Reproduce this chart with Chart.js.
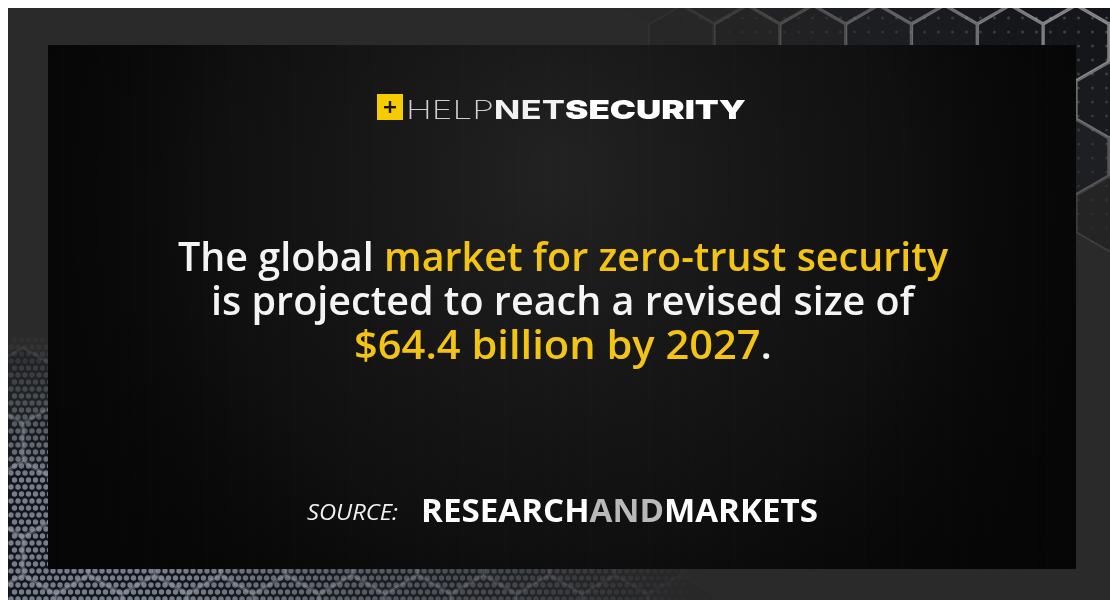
<!DOCTYPE html>
<html><head><meta charset="utf-8">
<script src="https://cdn.jsdelivr.net/npm/chart.js@4.4.0/dist/chart.umd.min.js"></script>
<style>html,body{margin:0;padding:0;background:#fff;overflow:hidden}#wrap{width:1110px;height:600px;position:relative}canvas{display:block}</style>
</head><body><div id="wrap"><canvas id="c" width="1110" height="600"></canvas></div>
<script>
// ---- data ----
const brandParts = ["HELP", "NET", "SECURITY"];
const marketLabels = ["zero-trust security"];
const marketSizeBillionUSD = [64.4];
const targetYears = ["2027"];
const sourceLabel = "SOURCE:";
const sourceParts = ["RESEARCH", "AND", "MARKETS"];

const WHITE = "#f4f4f4", YELLOW = "#f4c414", GREY = "#b9b9b9";
const IMG = {x: 8, y: 8, w: 1102, h: 592};
const PANEL = {x: 48, y: 45, w: 1028, h: 524};

function clamp(v, a, b) { return Math.max(a, Math.min(b, v)); }

function fitLine(ctx, parts, x0, x1, baseline) {
  let total = 0;
  parts.forEach(p => { ctx.font = p.f; p.w = ctx.measureText(p.t).width; total += p.w; });
  const s = (x1 - x0) / total;
  ctx.save();
  ctx.translate(x0, baseline);
  ctx.scale(s, 1);
  ctx.textBaseline = "alphabetic";
  ctx.textAlign = "left";
  let x = 0;
  parts.forEach(p => { ctx.font = p.f; ctx.fillStyle = p.c; ctx.fillText(p.t, x, 0); x += p.w; });
  ctx.restore();
}

function hexPath(ctx, cx, cy, r) {
  ctx.beginPath();
  for (let k = 0; k < 6; k++) {
    const a = (Math.PI / 180) * (60 * k - 90);
    const px = cx + r * Math.cos(a), py = cy + r * Math.sin(a);
    if (k === 0) ctx.moveTo(px, py); else ctx.lineTo(px, py);
  }
  ctx.closePath();
}

function trAlpha(cx, cy) {
  const h = clamp((cx - 640) / 420, 0, 1);
  const v = clamp(1 - (cy - 40) / 230, 0, 1);
  return h * v;
}
function blAlpha(cx, cy) {
  const v = clamp((cy - 330) / 150, 0, 1);
  const h = clamp((700 - cx) / 520, 0, 1);
  return v * h;
}

const backgroundPlugin = {
  id: "infographicBackground",
  beforeDraw(chart) {
    const ctx = chart.ctx;
    ctx.save();
    ctx.fillStyle = "#ffffff";
    ctx.fillRect(0, 0, chart.width, chart.height);
    ctx.fillStyle = "#2a2a2a";
    ctx.fillRect(IMG.x, IMG.y, IMG.w, IMG.h);

    ctx.beginPath();
    ctx.rect(IMG.x, IMG.y, IMG.w, IMG.h);
    ctx.rect(PANEL.x, PANEL.y, PANEL.w, PANEL.h);
    ctx.clip("evenodd");

    const R = 38, dx = Math.sqrt(3) * R, dy = 1.5 * R;
    for (let row = -1; row * dy < 640; row++) {
      for (let col = -1; col * dx < 1180; col++) {
        const cx = col * dx + (row % 2 ? dx / 2 : 0) - 10;
        const cy = row * dy - 14;
        const a = Math.max(trAlpha(cx, cy), blAlpha(cx, cy));
        if (a <= 0.01) continue;
        hexPath(ctx, cx, cy, R - 1);
        ctx.fillStyle = "rgba(14,16,22," + (0.8 * a) + ")";
        ctx.fill();
      }
    }
    // dots
    for (let y = IMG.y + 3; y < 600; y += 7) {
      const odd = Math.round((y - IMG.y) / 7) % 2;
      for (let x = IMG.x + 3 + (odd ? 3.5 : 0); x < 1110; x += 7) {
        const b = blAlpha(x, y), t = trAlpha(x, y);
        if (b > 0.02) {
          ctx.fillStyle = "rgba(160,170,190," + (0.7 * b) + ")";
          ctx.beginPath(); ctx.arc(x, y, 2.7, 0, Math.PI * 2); ctx.fill();
        } else if (t > 0.05 && (Math.round(x + y) % 14 < 7) && odd) {
          ctx.fillStyle = "rgba(150,150,158," + (0.35 * t) + ")";
          ctx.beginPath(); ctx.arc(x, y, 1.5, 0, Math.PI * 2); ctx.fill();
        }
      }
    }
    // hex outlines
    for (let row = -1; row * dy < 640; row++) {
      for (let col = -1; col * dx < 1180; col++) {
        const cx = col * dx + (row % 2 ? dx / 2 : 0) - 10;
        const cy = row * dy - 14;
        const t = trAlpha(cx, cy), b = blAlpha(cx, cy);
        if (t > 0.01) {
          hexPath(ctx, cx, cy, R - 1);
          ctx.lineWidth = 1.6;
          ctx.strokeStyle = "rgba(185,185,190," + (0.7 * t) + ")";
          ctx.stroke();
        }
        if (b > 0.01) {
          hexPath(ctx, cx, cy, R - 1);
          ctx.lineWidth = 3;
          ctx.strokeStyle = "rgba(150,155,170," + (0.35 * b) + ")";
          ctx.stroke();
        }
      }
    }
    ctx.restore();

    // inner panel
    ctx.save();
    ctx.fillStyle = "#060606";
    ctx.fillRect(PANEL.x, PANEL.y, PANEL.w, PANEL.h);
    const g = ctx.createRadialGradient(560, 170, 20, 560, 220, 620);
    g.addColorStop(0, "rgba(38,38,38,0.85)");
    g.addColorStop(0.55, "rgba(22,22,22,0.6)");
    g.addColorStop(1, "rgba(0,0,0,0)");
    ctx.fillStyle = g;
    ctx.fillRect(PANEL.x, PANEL.y, PANEL.w, PANEL.h);
    for (let x = PANEL.x; x < PANEL.x + PANEL.w; x += 3) {
      const s = 0.5 + 0.5 * Math.sin(x * 0.37) * Math.sin(x * 0.071);
      ctx.fillStyle = "rgba(255,255,255," + (0.012 * s) + ")";
      ctx.fillRect(x, PANEL.y, 1, PANEL.h);
    }
    ctx.restore();
  }
};

const textPlugin = {
  id: "infographicText",
  afterDraw(chart) {
    const ctx = chart.ctx;
    ctx.save();
    ctx.fillStyle = "#f5cc00";
    ctx.fillRect(377, 94, 26, 26);
    ctx.fillStyle = "#1a1400";
    ctx.fillRect(384, 106, 12, 2.4);
    ctx.fillRect(388.8, 101, 2.4, 12);

    fitLine(ctx, [
      {t: brandParts[0], f: "200 26px Inter, 'Liberation Sans', sans-serif", c: "#cfcfcf"},
      {t: brandParts[1], f: "700 26px Inter, 'Liberation Sans', sans-serif", c: "#f2f2f2"},
      {t: brandParts[2], f: "900 26px Inter, 'Liberation Sans', sans-serif", c: "#ffffff"}
    ], 406, 746, 119);

    const hf = "600 40px 'Open Sans', 'Noto Sans', sans-serif";
    fitLine(ctx, [
      {t: "The global ", f: hf, c: WHITE},
      {t: "market for " + marketLabels[0], f: hf, c: YELLOW}
    ], 178, 948, 271);
    fitLine(ctx, [
      {t: "is projected to reach a revised size of", f: hf, c: WHITE}
    ], 211, 914, 315);
    fitLine(ctx, [
      {t: "$" + marketSizeBillionUSD[0] + " billion by " + targetYears[0], f: hf, c: YELLOW},
      {t: ".", f: hf, c: WHITE}
    ], 354, 772, 359);

    fitLine(ctx, [
      {t: sourceLabel, f: "italic 500 21px 'Open Sans', 'Noto Sans', sans-serif", c: "#f0f0f0"}
    ], 307, 398, 520);
    const sf = "700 33px 'Open Sans', 'Noto Sans', sans-serif";
    fitLine(ctx, [
      {t: sourceParts[0], f: sf, c: "#ffffff"},
      {t: sourceParts[1], f: sf, c: GREY},
      {t: sourceParts[2], f: sf, c: "#ffffff"}
    ], 421, 818, 522);
    ctx.restore();
  }
};

new Chart(document.getElementById("c"), {
  type: "bar",
  data: {
    labels: targetYears,
    datasets: [{label: "Zero-trust security market (USD bn)", data: marketSizeBillionUSD, hidden: true}]
  },
  options: {
    responsive: false,
    devicePixelRatio: 1,
    animation: false,
    events: [],
    layout: {padding: 0},
    plugins: {legend: {display: false}, tooltip: {enabled: false}, title: {display: false}},
    scales: {x: {display: false}, y: {display: false}}
  },
  plugins: [backgroundPlugin, textPlugin]
});
</script>
</body></html>
